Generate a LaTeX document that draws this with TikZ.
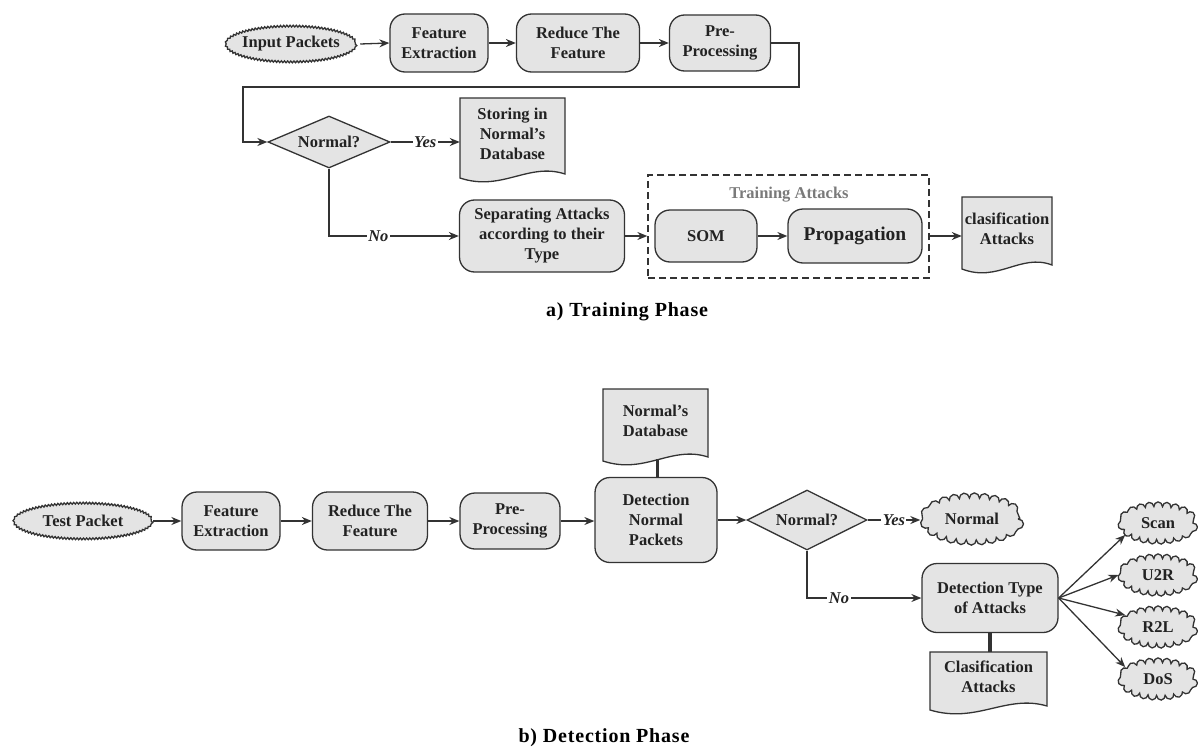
\documentclass[tikz,border=0pt]{standalone}
\usepackage{fontspec}
\setmainfont{Liberation Serif}
\usetikzlibrary{shapes.geometric,arrows.meta,calc,decorations.pathmorphing}
\definecolor{boxfill}{HTML}{E4E4E4}
\definecolor{edgec}{HTML}{333333}
\definecolor{txtc}{HTML}{222222}
\definecolor{grayt}{HTML}{7A7A7A}
\tikzset{
  base/.style={draw=edgec, fill=boxfill, line width=1.3pt, text=txtc,
    font=\bfseries\fontsize{16.5}{20}\selectfont, align=center, inner sep=0pt},
  rbox/.style={base, rectangle, rounded corners=15pt},
  dia/.style={base, diamond, aspect=2.4},
  docst/.style={draw=edgec, fill=boxfill, line width=1.3pt},
  ntext/.style={text=txtc, font=\bfseries\fontsize{16.5}{20}\selectfont, align=center, inner sep=0pt},
  arr/.style={draw=edgec, line width=1.3pt, -{Stealth[length=10pt,width=8pt]}},
  thick/.style={draw=edgec, line width=3.5pt},
  lbl/.style={fill=white, text=txtc, font=\bfseries\itshape\fontsize{16.5}{20}\selectfont, inner sep=1.5pt},
  caption/.style={text=black, font=\bfseries\fontsize{20}{24}\selectfont\addfontfeature{LetterSpace=4}},
}
% #1 name, #2 x0, #3 top, #4 width, #5 height, #6 text
\newcommand{\docshape}[6]{%
  \draw[docst] (#2,#3) -- (#2+#4,#3) -- (#2+#4,#3+#5-4)
    .. controls (#2+0.65*#4,#3+#5-16) and (#2+0.4*#4,#3+#5+14) .. (#2,#3+#5) -- cycle;
  \node[minimum width=#4 pt, minimum height=#5 pt, inner sep=0pt] (#1) at (#2+0.5*#4,#3+0.5*#5) {};
  \coordinate (#1-top) at (#2+0.5*#4,#3);
  \coordinate (#1-bot) at (#2+0.52*#4,#3+#5-2);
  \node[ntext] (#1-t) at (#2+0.5*#4,#3+0.5*#5-4) {#6};
}
% bumpy ellipse: #1 name, #2 x, #3 y, #4 rx, #5 ry, #6 segment length, #7 amplitude, #8 text
\newcommand{\bumpy}[8]{%
  \draw[docst, decorate, decoration={bumps, segment length=#6pt, amplitude=#7pt}]
    (#2,#3) ellipse [x radius=#4, y radius=#5];
  \node[ntext, ellipse, minimum width={(2*#4+2*#7)*1pt}, minimum height={(2*#5+2*#7)*1pt}] (#1) at (#2,#3) {#8};
}
\begin{document}
\begin{tikzpicture}[x=1pt,y=-1pt]
\useasboundingbox (0,0) rectangle (1198,749);

% ---------------- Training phase ----------------
\bumpy{inp}{291}{44}{64}{17}{6.3}{1.8}{Input Packets}
\node[rbox, minimum width=98pt, minimum height=58pt] (fe1) at (439,43) {Feature\\Extraction};
\node[rbox, minimum width=123pt, minimum height=58pt] (rf1) at (578,43) {Reduce The\\Feature};
\node[rbox, minimum width=101pt, minimum height=56pt] (pp1) at (720,43) {Pre-\\Processing};
\node[dia, minimum width=122pt, minimum height=52pt] (dia1) at (329,142) {Normal?};
\docshape{doc1}{460}{98}{105}{80}{Storing in\\Normal's\\Database}
\node[rbox, minimum width=165pt, minimum height=72pt] (sep) at (542,236) {Separating Attacks\\according to their\\Type};
\node[draw=edgec, line width=1.3pt, dash pattern=on 7pt off 4pt, minimum width=281pt, minimum height=103pt, inner sep=0pt] (tr) at (788.5,226.5) {};
\node[text=grayt, font=\bfseries\fontsize{16.5}{20}\selectfont] (trl) at (789,195) {Training Attacks};
\node[rbox, minimum width=102pt, minimum height=52pt] (som) at (706,236) {SOM};
\node[rbox, minimum width=134pt, minimum height=54pt, font=\bfseries\fontsize{19.5}{22}\selectfont] (prop) at (855,236) {Propagation};
\docshape{doc2}{962}{197}{90}{72}{clasification\\Attacks}
\node[caption] (capa) at (627,312) {a) Training Phase};

\coordinate (c1) at (799,43);
\coordinate (c2) at (799,87);
\coordinate (c3) at (243,87);
\draw[arr] (inp.east) -- (fe1.west);
\draw[arr] (fe1.east) -- (rf1.west);
\draw[arr] (rf1.east) -- (pp1.west);
\draw[arr] (pp1.east) -- (c1) -- (c2) -- (c3) |- (dia1.west);
\draw[arr] (dia1.east) -- node[lbl] {Yes} (dia1.east -| doc1.west);
\draw[arr] (dia1.south) |- node[lbl, pos=0.69] {No} (sep.west);
\draw[arr] (sep.east) -- (sep.east -| tr.west);
\draw[arr] (som.east) -- (prop.west);
\draw[arr] (prop.east -| tr.east) -- (prop.east -| doc2.west);

% ---------------- Detection phase ----------------
\bumpy{tp}{83}{521}{68}{17}{6.3}{1.8}{Test Packet}
\node[rbox, minimum width=98pt, minimum height=58pt] (fe2) at (231,521) {Feature\\Extraction};
\node[rbox, minimum width=115pt, minimum height=58pt] (rf2) at (370,521) {Reduce The\\Feature};
\node[rbox, minimum width=100pt, minimum height=56pt] (pp2) at (510,521) {Pre-\\Processing};
\node[rbox, minimum width=122pt, minimum height=85pt] (dnp) at (656,520) {Detection\\Normal\\Packets};
\docshape{doc3}{603}{389}{105}{72}{Normal's\\Database}
\node[dia, minimum width=120pt, minimum height=60pt] (dia2) at (807,520) {Normal?};
\bumpy{norm}{972}{519}{46}{20.5}{20}{5.5}{Normal}
\node[rbox, minimum width=136pt, minimum height=69pt] (dta) at (990,598) {Detection Type\\of Attacks};
\docshape{doc4}{930}{652}{117}{58}{Clasification\\Attacks}
\bumpy{scan}{1158}{523}{34.5}{16}{17}{5}{Scan}
\bumpy{u2r}{1158}{575}{34.5}{16}{17}{5}{U2R}
\bumpy{r2l}{1158}{627}{34.5}{16}{17}{5}{R2L}
\bumpy{dos}{1158}{679}{34.5}{16}{17}{5}{DoS}
\node[caption] (capb) at (604,738) {b) Detection Phase};

\draw[arr] (tp.east) -- (fe2.west);
\draw[arr] (fe2.east) -- (rf2.west);
\draw[arr] (rf2.east) -- (pp2.west);
\draw[arr] (pp2.east) -- (pp2.east -| dnp.west);
\draw[thick] (doc3-bot) -- (doc3-bot |- dnp.north);
\draw[arr] (dnp.east) -- (dia2.west);
\draw[arr] (dia2.east) -- node[lbl] {Yes} (dia2.east -| norm.west);
\draw[arr] (dia2.south) |- node[lbl, pos=0.64] {No} (dta.west);
\draw[thick] (dta.south) -- (dta.south |- doc4-top);
\draw[arr] (dta.east) -- (scan.200);
\draw[arr] (dta.east) -- (u2r.west);
\draw[arr] (dta.east) -- (r2l.160);
\draw[arr] (dta.east) -- (dos.160);
\end{tikzpicture}
\end{document}
